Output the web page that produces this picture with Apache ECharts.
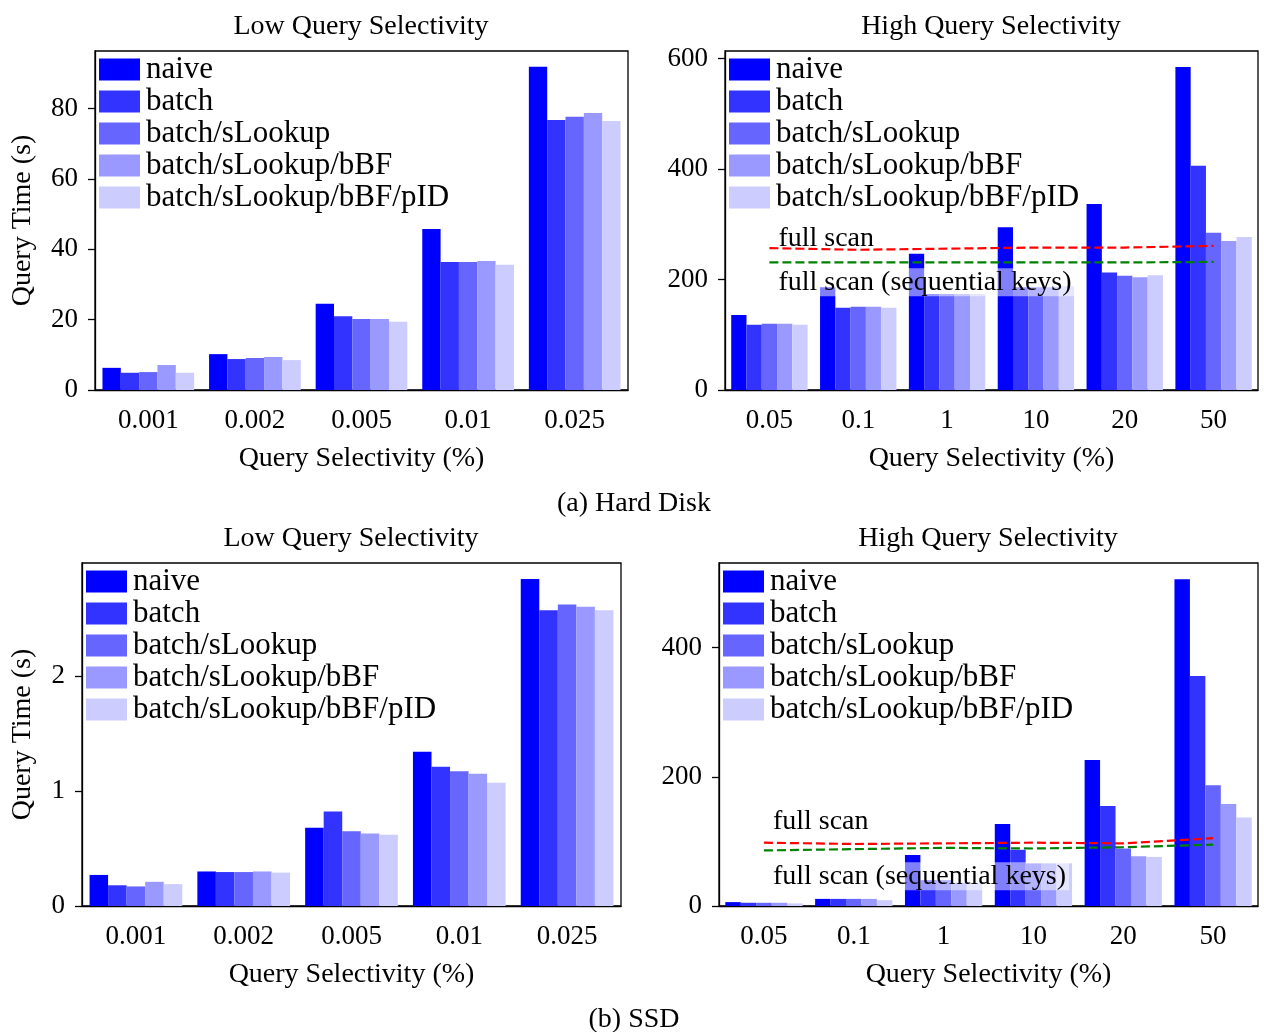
<!DOCTYPE html>
<html lang="en">
<head>
    <meta charset="UTF-8">
    <title>Query Time vs Query Selectivity</title>
    <script src="https://cdn.jsdelivr.net/npm/echarts@6/dist/echarts.min.js"></script>
    <style>
        html, body { margin: 0; padding: 0; background: #fff; }
        #chart { width: 1264px; height: 1032px; }
    </style>
</head>
<body>
<div id="chart"></div>
<script>
    // categories
    var lowCats = ['0.001', '0.002', '0.005', '0.01', '0.025'];
    var highCats = ['0.05', '0.1', '1', '10', '20', '50'];
    var names = ['naive', 'batch', 'batch/sLookup', 'batch/sLookup/bBF', 'batch/sLookup/bBF/pID'];
    var colors = ['#0000ff', '#3333ff', '#6666ff', '#9999ff', '#ccccff'];

    // (a) hard disk, low selectivity
    var hddLowNaive   = [6.3, 10.2, 24.5, 45.8, 91.9];
    var hddLowBatch   = [4.9, 8.8, 21.0, 36.4, 76.8];
    var hddLowSLookup = [5.1, 9.1, 20.2, 36.4, 77.7];
    var hddLowBBF     = [7.1, 9.4, 20.2, 36.7, 78.8];
    var hddLowPID     = [4.9, 8.5, 19.4, 35.6, 76.5];

    // (a) hard disk, high selectivity
    var hddHighNaive   = [136, 186, 247, 295, 337, 585];
    var hddHighBatch   = [118, 149, 174, 186, 213, 406];
    var hddHighSLookup = [120, 151, 174, 186, 207, 285];
    var hddHighBBF     = [120, 151, 174, 186, 204, 270];
    var hddHighPID     = [118, 149, 174, 188, 208, 277];
    var hddFullScan    = [257, 254, 256, 258, 258, 261];
    var hddFullScanSeq = [231, 231, 231, 231, 231, 232];

    // (b) SSD, low selectivity
    var ssdLowNaive   = [0.27, 0.30, 0.68, 1.34, 2.84];
    var ssdLowBatch   = [0.18, 0.295, 0.82, 1.21, 2.57];
    var ssdLowSLookup = [0.17, 0.295, 0.65, 1.17, 2.62];
    var ssdLowBBF     = [0.21, 0.30, 0.63, 1.15, 2.60];
    var ssdLowPID     = [0.19, 0.29, 0.62, 1.07, 2.57];

    // (b) SSD, high selectivity
    var ssdHighNaive   = [6, 11, 79, 127, 226, 506];
    var ssdHighBatch   = [5, 11, 40, 87, 155, 356];
    var ssdHighSLookup = [5, 11, 40, 66, 89, 187];
    var ssdHighBBF     = [5, 11, 36, 66, 77, 158];
    var ssdHighPID     = [4, 9, 36, 66, 76, 137];
    var ssdFullScan    = [98, 96, 97, 98, 97, 105];
    var ssdFullScanSeq = [86, 88, 90, 89, 91, 95];

    var FONT = '"Liberation Serif", "DejaVu Serif", serif';

    var grids = [
        {left: 95, top: 51, width: 533, height: 339},
        {left: 725, top: 51, width: 533, height: 339},
        {left: 82, top: 563, width: 539, height: 343},
        {left: 719, top: 563, width: 539, height: 343}
    ];

    function xAxis(idx, cats) {
        return {
            type: 'category', gridIndex: idx, data: cats,
            name: 'Query Selectivity (%)', nameLocation: 'middle', nameGap: 55,
            nameTextStyle: {fontFamily: FONT, fontSize: 28, color: '#000'},
            axisLine: {lineStyle: {color: '#000', width: 1.3}},
            axisTick: {alignWithLabel: true, length: 7, lineStyle: {color: '#000', width: 1.3}},
            axisLabel: {fontFamily: FONT, fontSize: 27, color: '#000', margin: 17},
            splitLine: {show: false}
        };
    }
    function yAxis(idx, max, interval, name, gap) {
        return {
            type: 'value', gridIndex: idx, min: 0, max: max, interval: interval,
            name: name, nameLocation: 'middle', nameGap: gap,
            nameTextStyle: {fontFamily: FONT, fontSize: 28, color: '#000'},
            axisLine: {show: true, lineStyle: {color: '#000', width: 1.3}},
            axisTick: {show: true, length: 7, lineStyle: {color: '#000', width: 1.3}},
            axisLabel: {fontFamily: FONT, fontSize: 27, color: '#000', margin: 17, showMaxLabel: false},
            splitLine: {show: false}
        };
    }
    function legend(idx) {
        return {
            left: grids[idx].left + 4, top: grids[idx].top + 3,
            orient: 'vertical', data: names,
            icon: 'rect', itemWidth: 41, itemHeight: 22, itemGap: 1,
            padding: 0, selectedMode: false,
            textStyle: {fontFamily: FONT, fontSize: 31, color: '#000', padding: [0, 0, 0, 1]}
        };
    }
    function bars(idx, sets) {
        return sets.map(function (d, i) {
            return {
                name: names[i], type: 'bar', xAxisIndex: idx, yAxisIndex: idx,
                data: d, barGap: '0%', barCategoryGap: '14%',
                itemStyle: {color: colors[i]}
            };
        });
    }
    function scanLines(idx, full, seq, yFull, ySeq) {
        var lbl = {
            show: true, position: 'right', distance: 6,
            fontFamily: FONT, fontSize: 28, color: '#000',
            backgroundColor: 'rgba(255,255,255,0.5)', padding: [0, 3]
        };
        return [
            {
                name: 'full scan', type: 'line', xAxisIndex: idx, yAxisIndex: idx,
                data: full, symbol: 'none', z: 5,
                lineStyle: {color: '#ff0000', width: 2.2, type: [9, 4]}
            },
            {
                name: 'full scan (sequential keys)', type: 'line', xAxisIndex: idx, yAxisIndex: idx,
                data: seq, symbol: 'none', z: 5,
                lineStyle: {color: '#008000', width: 2.2, type: [9, 4]},
                markPoint: {
                    symbol: 'circle', symbolSize: 0, silent: true,
                    data: [
                        {coord: [0, yFull], label: Object.assign({formatter: 'full scan'}, lbl)},
                        {coord: [0, ySeq], label: Object.assign({formatter: 'full scan (sequential keys)'}, lbl)}
                    ]
                }
            }
        ];
    }

    function text(x, y, s) {
        return {
            type: 'text', x: x, y: y,
            style: {text: s, fontFamily: FONT, fontSize: 28, fill: '#000', align: 'center', verticalAlign: 'middle'}
        };
    }

    var series = []
        .concat(bars(0, [hddLowNaive, hddLowBatch, hddLowSLookup, hddLowBBF, hddLowPID]))
        .concat(bars(1, [hddHighNaive, hddHighBatch, hddHighSLookup, hddHighBBF, hddHighPID]))
        .concat(scanLines(1, hddFullScan, hddFullScanSeq, 275, 195))
        .concat(bars(2, [ssdLowNaive, ssdLowBatch, ssdLowSLookup, ssdLowBBF, ssdLowPID]))
        .concat(bars(3, [ssdHighNaive, ssdHighBatch, ssdHighSLookup, ssdHighBBF, ssdHighPID]))
        .concat(scanLines(3, ssdFullScan, ssdFullScanSeq, 130, 46));

    var option = {
        animation: false,
        backgroundColor: '#fff',
        grid: grids.map(function (g) {
            return Object.assign({show: true, borderColor: '#000', borderWidth: 1.3, containLabel: false}, g);
        }),
        xAxis: [xAxis(0, lowCats), xAxis(1, highCats), xAxis(2, lowCats), xAxis(3, highCats)],
        yAxis: [
            yAxis(0, 96.4, 20, 'Query Time (s)', 58),
            yAxis(1, 614, 200, '', 0),
            yAxis(2, 2.98, 1, 'Query Time (s)', 45),
            yAxis(3, 531, 200, '', 0)
        ],
        legend: [legend(0), legend(1), legend(2), legend(3)],
        graphic: [
            text(361, 27, 'Low Query Selectivity'),
            text(991, 27, 'High Query Selectivity'),
            text(634, 504, '(a) Hard Disk'),
            text(351, 539, 'Low Query Selectivity'),
            text(988, 539, 'High Query Selectivity'),
            text(634, 1020, '(b) SSD')
        ],
        series: series
    };

    var myChart = echarts.init(document.getElementById('chart'));
    myChart.setOption(option);
</script>
</body>
</html>
